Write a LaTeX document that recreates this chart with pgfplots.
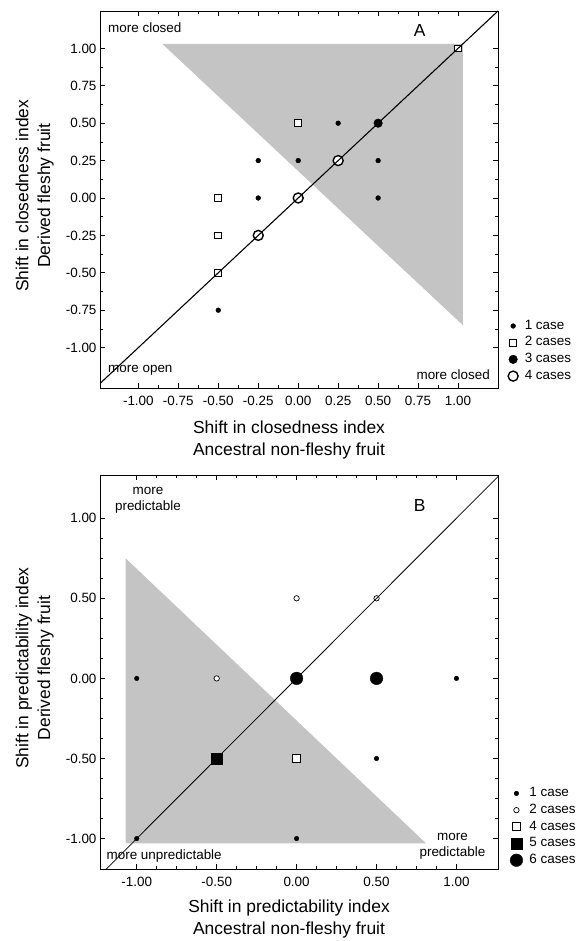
\documentclass[border=0pt]{standalone}
\usepackage{fontspec}
\setmainfont{Liberation Sans}
\usepackage{pgfplots}
\pgfplotsset{compat=1.18}
\definecolor{shade}{HTML}{C4C4C4}
\newcommand\smallf{\fontsize{13.5}{16}\selectfont}
\newcommand\bigf{\fontsize{17.5}{22}\selectfont}

\pgfplotsset{
  panel/.style={
    scale only axis, width=398bp, clip mode=individual,
    axis line style={line width=0.9bp},
    tick style={black, line width=0.7bp},
    major tick length=5bp, minor tick length=3bp,
    tick label style={font=\smallf},
    xticklabel style={yshift=-5bp},
    legend cell align=left,
    legend style={draw=none, fill=none, font=\smallf, anchor=west,
      inner sep=0pt, row sep=0pt,
      /tikz/every odd column/.append style={column sep=5bp},
      nodes={inner sep=1.6bp, text height=10bp, text depth=3.5bp}},
    legend image code/.code={\draw[mark repeat=2,mark phase=2]
      plot coordinates {(0cm,0cm)(0.15cm,0cm)(0.3cm,0cm)};},
  },
}
\tikzset{lab/.style={font=\smallf, inner sep=0pt},
  ttl/.style={font=\bigf, align=center, inner sep=0pt}}

\begin{document}
\begin{tikzpicture}
\path[use as bounding box] (0,0) rectangle (585bp,941bp);

% panel A: closedness
\begin{axis}[panel, at={(100bp,553bp)}, anchor=south west, height=377bp,
  xmin=-1.24, xmax=1.25, ymin=-1.27, ymax=1.25,
  xtick={-1,-0.75,-0.5,-0.25,0,0.25,0.5,0.75,1},
  xticklabels={-1.00,-0.75,-0.50,-0.25,0.00,0.25,0.50,0.75,1.00},
  ytick={-1,-0.75,-0.5,-0.25,0,0.25,0.5,0.75,1},
  yticklabels={-1.00,-0.75,-0.50,-0.25,0.00,0.25,0.50,0.75,1.00},
  minor tick num=1,
  legend style={at={(axis description cs:1.025,0.098)}},
]
\addplot[fill=shade, draw=none, forget plot] coordinates {(-0.85,1.03)(1.03,1.03)(1.03,-0.85)} -- cycle;
\addplot[black, only marks, mark=*, mark size=2.4bp]
  coordinates {(-0.5,-0.75)(-0.25,0)(-0.25,0.25)(0,0.25)(0.25,0.5)(0.5,0.25)(0.5,0)};
\addplot[black, only marks, mark=square*, mark size=3.4bp, mark options={fill=white, line width=0.9bp}]
  coordinates {(-0.5,-0.5)(-0.5,-0.25)(-0.5,0)(0,0.5)(1,1)};
\addplot[black, only marks, mark=*, mark size=4.3bp]
  coordinates {(0.5,0.5)};
\addplot[black, only marks, mark=*, mark size=5bp, mark options={fill=white, line width=1.4bp}]
  coordinates {(-0.25,-0.25)(0,0)(0.25,0.25)};
\legend{1 case, 2 cases, 3 cases, 4 cases}
\addplot[black, line width=1.1bp, forget plot] coordinates {(-1.24,-1.24)(1.25,1.25)};
\node[lab, anchor=west] at (axis cs:-1.19,1.14) {more closed};
\node[font=\bigf, inner sep=0pt] at (axis cs:0.76,1.12) {A};
\node[lab, anchor=west] at (axis cs:-1.19,-1.15) {more open};
\node[lab, anchor=east] at (axis cs:1.20,-1.18) {more closed};
\node[ttl, anchor=north] at (axis description cs:0.475,-0.0875)
  {Shift in closedness index\\Ancestral non-fleshy fruit};
\node[ttl, rotate=90, anchor=south] at (axis description cs:-0.1156,0.51)
  {Shift in closedness index\\Derived fleshy fruit};
\end{axis}

% panel B: predictability
\begin{axis}[panel, at={(100bp,72bp)}, anchor=south west, height=394bp,
  xmin=-1.23, xmax=1.26, ymin=-1.19, ymax=1.27,
  xtick={-1,-0.5,0,0.5,1},
  xticklabels={-1.00,-0.50,0.00,0.50,1.00},
  ytick={-1,-0.5,0,0.5,1},
  yticklabels={-1.00,-0.50,0.00,0.50,1.00},
  minor tick num=3,
  legend style={at={(axis description cs:1.03,0.107)}},
]
\addplot[fill=shade, draw=none, forget plot] coordinates {(-1.07,0.75)(-1.07,-1.03)(0.81,-1.03)} -- cycle;
\addplot[black, only marks, mark=*, mark size=2.3bp]
  coordinates {(-1,0)(1,0)(0.5,-0.5)(-1,-1)(0,-1)};
\addplot[black, only marks, mark=*, mark size=2.7bp, mark options={fill=white, line width=0.7bp}]
  coordinates {(-0.5,0)(0,0.5)(0.5,0.5)};
\addplot[black, only marks, mark=square*, mark size=4bp, mark options={fill=white, line width=0.9bp}]
  coordinates {(0,-0.5)};
\addplot[black, only marks, mark=square*, mark size=5.3bp]
  coordinates {(-0.5,-0.5)};
\addplot[black, only marks, mark=*, mark size=6.3bp]
  coordinates {(0,0)(0.5,0)};
\legend{1 case, 2 cases, 4 cases, 5 cases, 6 cases}
\addplot[black, line width=0.8bp, forget plot] coordinates {(-1.23,-1.23)(1.26,1.26)};
\node[lab, align=center] at (axis cs:-0.93,1.11) {more\\predictable};
\node[font=\bigf, inner sep=0pt] at (axis cs:0.77,1.08) {B};
\node[lab, anchor=west] at (axis cs:-1.19,-1.11) {more unpredictable};
\node[lab, align=center] at (axis cs:0.975,-1.05) {more\\predictable};
\node[ttl, anchor=north] at (axis description cs:0.475,-0.079)
  {Shift in predictability index\\Ancestral non-fleshy fruit};
\node[ttl, rotate=90, anchor=south] at (axis description cs:-0.1156,0.51)
  {Shift in predictability index\\Derived fleshy fruit};
\end{axis}
\end{tikzpicture}
\end{document}
